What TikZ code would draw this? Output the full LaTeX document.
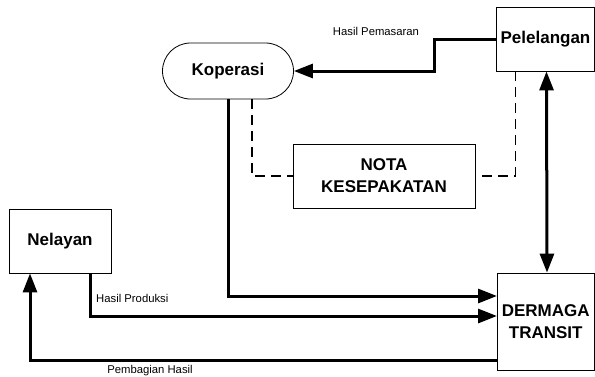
\documentclass[tikz,border=0pt]{standalone}
\usepackage{fontspec}
\setmainfont{Liberation Sans}
\usetikzlibrary{arrows.meta,shapes.misc}

\tikzset{
  box/.style={draw, line width=0.8pt, inner sep=0pt, align=center,
    font=\fontsize{17}{22}\selectfont\bfseries},
  arr/.style={line width=3pt, -{Triangle[length=19pt,width=14pt]}},
  dashline/.style={line width=1.2pt, dash pattern=on 10pt off 6pt},
  lbl/.style={font=\fontsize{11.3}{13}\selectfont, inner sep=0pt}
}

\begin{document}
\begin{tikzpicture}[x=1pt,y=-1pt]
\useasboundingbox (0,0) rectangle (595,376);

\node[box, minimum width=98pt, minimum height=64pt] (pelelangan) at (545.5,39) {Pelelangan};
\node[box, rounded rectangle, minimum width=131pt, minimum height=56pt] (koperasi) at (228,71) {Koperasi};
\node[box, minimum width=182pt, minimum height=64pt] (nota) at (384,176) {NOTA\\KESEPAKATAN};
\node[box, minimum width=102pt, minimum height=64pt] (nelayan) at (60,241) {Nelayan};
\node[box, minimum width=97.5pt, minimum height=97pt] (dermaga) at (545.75,321.5) {DERMAGA\\TRANSIT};

\coordinate (inkop) at (497,296);
\coordinate (inlay) at (497,316);
\coordinate (outbagi) at (497,360);

% hasil pemasaran
\draw[arr] (pelelangan.west) -- ++(-62,0) |- (koperasi.east);
\node[lbl] (pemasaran) at (376,31) {Hasil Pemasaran};

% nota
\draw[dashline] ([xshift=24pt]koperasi.south) |- (nota.west);
\draw[dashline] ([xshift=-30pt]pelelangan.south) |- (nota.east);

% ke dermaga
\draw[arr] (koperasi.south) |- (inkop);
\draw[arr] ([xshift=-21pt]nelayan.south east) |- (inlay);
\node[lbl, anchor=west] (produksi) at (96,298) {Hasil Produksi};

\draw[line width=3pt, {Triangle[length=19pt,width=14pt]}-{Triangle[length=19pt,width=14pt]}]
  ([xshift=1pt]pelelangan.south) -- ([xshift=1.25pt]dermaga.north);

% pembagian hasil
\draw[arr] (outbagi) -| ([xshift=-30pt]nelayan.south);
\node[lbl] (pembagian) at (150,371) {Pembagian Hasil};
\end{tikzpicture}
\end{document}
